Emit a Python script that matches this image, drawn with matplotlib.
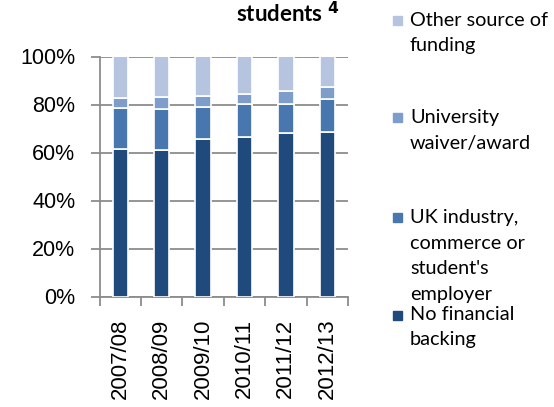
import matplotlib
matplotlib.use("Agg")
import matplotlib.pyplot as plt
import numpy as np
from matplotlib.patches import Rectangle

years = ["2007/08", "2008/09", "2009/10", "2010/11", "2011/12", "2012/13"]
series_names = ["No financial\nbacking",
                "UK industry,\ncommerce or\nstudent's\nemployer",
                "University\nwaiver/award",
                "Other source of\nfunding"]
no_backing = [61.4, 60.9, 65.5, 66.6, 68.0, 68.4]
uk_industry = [17.0, 17.1, 13.4, 13.7, 12.3, 14.1]
university = [4.4, 5.2, 4.5, 4.2, 5.2, 4.6]
other = [17.2, 16.8, 16.6, 15.5, 14.5, 12.9]
colors = ["#214a7c", "#4876ae", "#7f9dca", "#b6c4df"]

plt.rcParams['font.family'] = ['Lato', 'DejaVu Sans']
tick_font = ['Liberation Sans', 'DejaVu Sans']

fig = plt.figure(figsize=(5.54, 4.07), dpi=100)
W, H = 554, 407
ax = fig.add_axes([99.5 / W, 1 - 296.5 / H, 248.5 / W, 240 / H])

x = np.arange(len(years))
bottom = np.zeros(len(years))
for vals, c in zip([no_backing, uk_industry, university, other], colors):
    ax.bar(x, vals, width=0.37, bottom=bottom, color=c, edgecolor="white",
           linewidth=1.2, zorder=3)
    bottom += np.array(vals)

ax.set_xlim(-0.5, len(years) - 0.5)
ax.set_ylim(0, 100)
ax.set_yticks([0, 20, 40, 60, 80, 100])
ax.set_yticklabels(["0%", "20%", "40%", "60%", "80%", "100%"], fontsize=15.5,
                   family=tick_font)
ax.yaxis.grid(True, color="#8c8c8c", linewidth=1.3, zorder=0)
ax.set_xticks(x)
ax.set_xticklabels(years, rotation=90, fontsize=16, family=tick_font)
ax.tick_params(axis="x", length=0, pad=16)
ax.set_xticks(np.arange(-0.5, len(years)), minor=True)
ax.tick_params(axis="x", which="minor", length=6.5, color="#8c8c8c", width=1.3)
ax.tick_params(axis="y", length=6.5, color="#8c8c8c", width=1.3, pad=11)
for s in ["top", "right"]:
    ax.spines[s].set_visible(False)
for s in ["left", "bottom"]:
    ax.spines[s].set_color("#8c8c8c")
    ax.spines[s].set_linewidth(1.3)

fig.text(339 / W, 1 - 14 / H, "students $^{\\mathbf{4}}$", fontsize=16,
         fontweight="bold", ha="right", va="center")

# legend (reverse order)
first_line_y = [20, 118, 218, 314]
square_y = [16, 113, 213, 311]
order = [3, 2, 1, 0]
for yy, sy, idx in zip(first_line_y, square_y, order):
    fig.patches.append(Rectangle((393 / W, 1 - (sy + 9) / H), 9 / W, 9 / H,
                                 transform=fig.transFigure, color=colors[idx]))
    for i, line in enumerate(series_names[idx].split("\n")):
        fig.text(410 / W, 1 - (yy + i * 25.5) / H, line, fontsize=14.3,
                 ha="left", va="center")

fig.savefig("out.png", dpi=100)
